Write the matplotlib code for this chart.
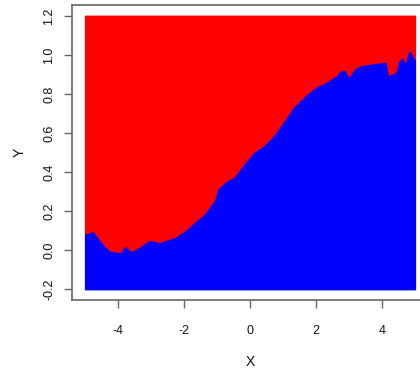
import numpy as np
import matplotlib.pyplot as plt

# boundary between the two classes
bx = [-5.0, -4.75, -4.45, -4.25, -3.95, -3.8, -3.6, -3.35, -3.05, -2.75,
      -2.3, -2.0, -1.7, -1.4, -1.1, -1.0, -0.7, -0.5, -0.2, 0.1,
      0.4, 0.7, 1.0, 1.3, 1.7, 2.0, 2.3, 2.6, 2.75, 2.9,
      3.0, 3.15, 3.35, 3.75, 4.1, 4.15, 4.22, 4.4, 4.5, 4.65,
      4.7, 4.8, 4.9, 5.0]
by = [0.086, 0.10, 0.034, 0.0, -0.009, 0.026, -0.003, 0.02, 0.055, 0.043,
      0.068, 0.10, 0.145, 0.188, 0.256, 0.316, 0.36, 0.376, 0.444, 0.504,
      0.538, 0.59, 0.66, 0.735, 0.80, 0.84, 0.863, 0.897, 0.923, 0.926,
      0.892, 0.93, 0.949, 0.96, 0.966, 0.966, 0.90, 0.914, 0.974, 0.991,
      0.966, 1.026, 1.017, 0.983]
y_lo, y_hi = -0.2, 1.2
xticks = [-4, -2, 0, 2, 4]
yticks = [-0.2, 0.0, 0.2, 0.4, 0.6, 0.8, 1.0, 1.2]

plt.rcParams['font.family'] = ['Liberation Sans', 'DejaVu Sans']
fig = plt.figure(figsize=(4.2, 3.76), dpi=100)
ax = fig.add_axes([72 / 420, 76 / 376, 356 / 420, 295 / 376])

ax.fill_between(bx, y_lo, by, color='#0000ff', lw=1.2, edgecolor='#0000ff')
ax.fill_between(bx, by, y_hi, color='#ff0000', lw=1.2, edgecolor='#ff0000')

ax.set_xlim(-5.4, 5.4)
ax.set_ylim(-0.256, 1.256)
ax.set_xticks(xticks)
ax.set_xticklabels([str(t) for t in xticks])
ax.set_yticks(yticks)
ax.set_yticklabels([f'{t:.1f}' for t in yticks], rotation=90, va='center')
for s in ax.spines.values():
    s.set_color('#666666')
    s.set_linewidth(1.2)
ax.tick_params(length=6, width=1, color='#666666', labelsize=9,
               labelcolor='#111111', pad=12)
ax.tick_params(axis='y', pad=6)
ax.set_xlabel('X', fontsize=10, labelpad=13, color='#111111')
ax.set_ylabel('Y', fontsize=10, labelpad=12, color='#111111')

fig.savefig('out.png', dpi=100)
